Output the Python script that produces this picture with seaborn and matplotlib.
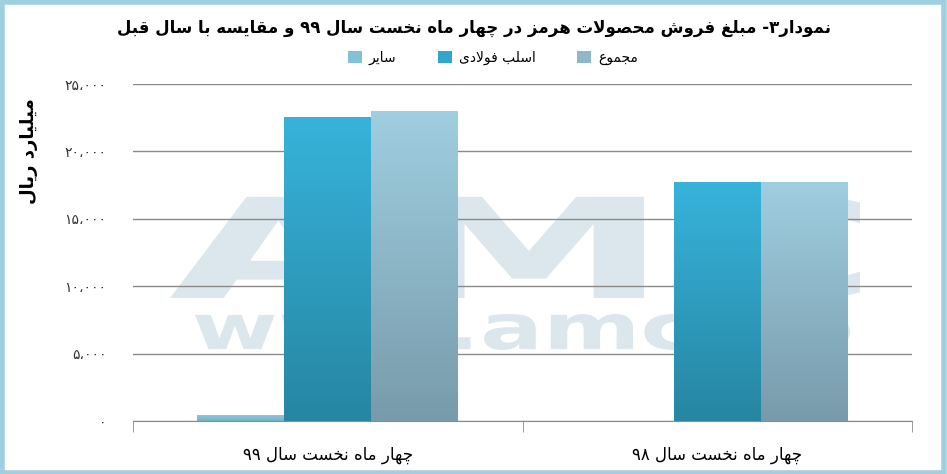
import re
import numpy as np
import pandas as pd
import matplotlib
matplotlib.use("Agg")
import matplotlib.pyplot as plt
import seaborn as sns
from matplotlib.colors import LinearSegmentedColormap
from matplotlib.patches import Rectangle, PathPatch
from matplotlib.textpath import TextPath
from matplotlib.font_manager import FontProperties
from matplotlib.transforms import Affine2D
from matplotlib.ticker import FuncFormatter

# data
periods = ["چهار ماه نخست سال ۹۹", "چهار ماه نخست سال ۹۸"]
series = ["سایر", "اسلب فولادی", "مجموع"]
other = [420, 0]
slab = [22580, 17700]
total = [23000, 17700]

title = "نمودار۳- مبلغ فروش محصولات هرمز در چهار ماه نخست سال ۹۹ و مقایسه با سال قبل"
ylabel = "میلیارد ریال"

# simple persian shaping (matplotlib has no arabic text layout)
FORMS = {
    "ا": ("\uFE8D", "\uFE8E", None, None),
    "ب": ("\uFE8F", "\uFE90", "\uFE91", "\uFE92"),
    "ت": ("\uFE95", "\uFE96", "\uFE97", "\uFE98"),
    "ج": ("\uFE9D", "\uFE9E", "\uFE9F", "\uFEA0"),
    "ح": ("\uFEA1", "\uFEA2", "\uFEA3", "\uFEA4"),
    "خ": ("\uFEA5", "\uFEA6", "\uFEA7", "\uFEA8"),
    "د": ("\uFEA9", "\uFEAA", None, None),
    "ر": ("\uFEAD", "\uFEAE", None, None),
    "ز": ("\uFEAF", "\uFEB0", None, None),
    "س": ("\uFEB1", "\uFEB2", "\uFEB3", "\uFEB4"),
    "ش": ("\uFEB5", "\uFEB6", "\uFEB7", "\uFEB8"),
    "ص": ("\uFEB9", "\uFEBA", "\uFEBB", "\uFEBC"),
    "ع": ("\uFEC9", "\uFECA", "\uFECB", "\uFECC"),
    "غ": ("\uFECD", "\uFECE", "\uFECF", "\uFED0"),
    "ف": ("\uFED1", "\uFED2", "\uFED3", "\uFED4"),
    "ق": ("\uFED5", "\uFED6", "\uFED7", "\uFED8"),
    "ل": ("\uFEDD", "\uFEDE", "\uFEDF", "\uFEE0"),
    "م": ("\uFEE1", "\uFEE2", "\uFEE3", "\uFEE4"),
    "ن": ("\uFEE5", "\uFEE6", "\uFEE7", "\uFEE8"),
    "ه": ("\uFEE9", "\uFEEA", "\uFEEB", "\uFEEC"),
    "و": ("\uFEED", "\uFEEE", None, None),
    "ی": ("\uFBFC", "\uFBFD", "\uFBFE", "\uFBFF"),
    "چ": ("\uFB7A", "\uFB7B", "\uFB7C", "\uFB7D"),
}


def fa(text):
    out = []
    chars = list(text)
    i = 0
    n = len(chars)
    while i < n:
        c = chars[i]
        prev = chars[i - 1] if i > 0 else ""
        joins_prev = prev in FORMS and FORMS[prev][2] is not None
        if c == "ل" and i + 1 < n and chars[i + 1] == "ا":
            out.append("\uFEFC" if joins_prev else "\uFEFB")
            i += 2
            continue
        if c in FORMS:
            iso, fin, ini, med = FORMS[c]
            nxt = chars[i + 1] if i + 1 < n else ""
            joins_next = ini is not None and nxt in FORMS
            if joins_prev and joins_next:
                out.append(med)
            elif joins_prev:
                out.append(fin)
            elif joins_next:
                out.append(ini)
            else:
                out.append(iso)
        else:
            out.append(c)
        i += 1
    vis = "".join(out)[::-1]
    return re.sub(r"[0-9۰-۹]+", lambda m: m.group(0)[::-1], vis)


def fa_num(v, pos=None):
    s = f"{v:,.0f}".replace(",", "،")
    return s.translate(str.maketrans("0123456789", "۰۱۲۳۴۵۶۷۸۹"))


df = pd.DataFrame({
    "period": [fa(p) for p in periods] * 3,
    "series": np.repeat([fa(s) for s in series], len(periods)),
    "value": other + slab + total,
})

plt.rcParams["font.family"] = ["DejaVu Sans"]
fig = plt.figure(figsize=(9.47, 4.74), dpi=100)
ax = fig.add_axes([133 / 947, 1 - 421 / 474, 779 / 947, 337 / 474])

colors = ["#82c2d6", "#30a6cc", "#8db8ca"]
sns.barplot(data=df, x="period", y="value", hue="series", palette=colors,
            width=0.67, gap=0, ax=ax, zorder=2, saturation=1, legend=True)

# gradient fill on each bar
grads = [("#8cc7da", "#74b4ca"), ("#37b3db", "#2686a2"), ("#9fcee0", "#789bab")]
for k, cont in enumerate(ax.containers):
    cmap = LinearSegmentedColormap.from_list("g%d" % k, [grads[k][1], grads[k][0]])
    for p in cont.patches:
        h = p.get_height()
        if h <= 0:
            continue
        x0 = p.get_x()
        w = p.get_width()
        im = ax.imshow(np.linspace(0, 1, 100).reshape(-1, 1), cmap=cmap, origin="lower",
                       extent=[x0, x0 + w, 0, h], aspect="auto", zorder=2.1)
        im.set_clip_path(p)

ax.set_xlim(-0.5, 1.5)
ax.set_ylim(0, 25000)
ax.set_yticks(range(0, 25001, 5000))
ax.yaxis.set_major_formatter(FuncFormatter(fa_num))
ax.grid(axis="y", color="#8a8a8a", lw=1, zorder=1)
ax.grid(axis="x", visible=False)
ax.set_axisbelow(True)
for s in ["top", "right", "left"]:
    ax.spines[s].set_visible(False)
ax.spines["bottom"].set_color("#8a8a8a")
ax.tick_params(axis="y", length=0, pad=19, labelsize=10, colors="#333333")
ax.set_xticks([-0.5, 0.5, 1.5], minor=True)
ax.tick_params(axis="x", which="minor", length=8, color="#8a8a8a")
ax.tick_params(axis="x", which="major", length=0, pad=18, labelsize=12)
ax.set_xlabel("")
ax.set_ylabel(fa(ylabel), fontsize=13, fontweight="bold")
ax.yaxis.set_label_coords(-0.122, 0.8)

# watermark logo
wm = "#dbe7ed"
fp = FontProperties(family="DejaVu Sans", weight="bold")
for txt, box in [("AMC", (170, 195, 860, 300)), ("www.amc-co", (195, 314, 850, 350))]:
    tp = TextPath((0, 0), txt, size=1, prop=fp)
    bb = tp.get_extents()
    x0, yt, x1, yb = box
    tr = (Affine2D().translate(-bb.x0, -bb.y0)
          .scale((x1 - x0) / 947 / bb.width, (yb - yt) / 474 / bb.height)
          .translate(x0 / 947, 1 - yb / 474)) + fig.transFigure
    ax.add_patch(PathPatch(tp, transform=tr, facecolor=wm, edgecolor="none", zorder=0.5))

leg = ax.legend(loc="upper center", bbox_to_anchor=(0.462, 1.135), ncol=3, frameon=False,
                fontsize=10, handlelength=1.0, handleheight=1.0, columnspacing=3.0,
                handletextpad=0.5)

fig.text(0.5, 0.94, fa(title), ha="center", va="center", fontsize=12, fontweight="bold")

fig.patches.append(Rectangle((0.002, 0.003), 0.995, 0.993, transform=fig.transFigure,
                             fill=False, edgecolor="#9fcfe0", lw=4))

fig.savefig("out.png", dpi=100, facecolor="white")
